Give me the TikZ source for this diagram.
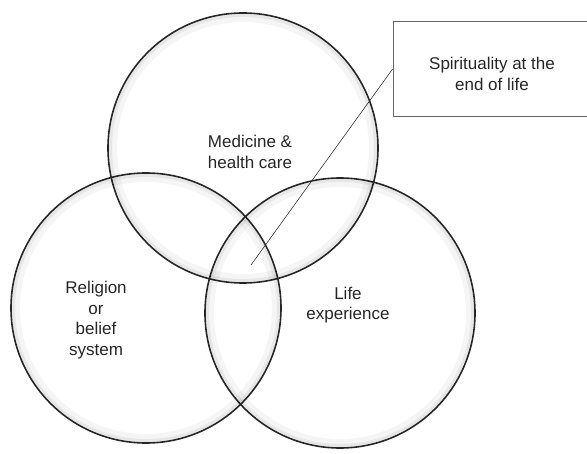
\documentclass[tikz,border=0pt]{standalone}
\usepackage{fontspec}
\setmainfont{Liberation Sans}
\usetikzlibrary{positioning}

\begin{document}
\begin{tikzpicture}[
  x=1pt, y=-1pt,
  ring/.style={circle, draw=black!85, line width=1.6pt, minimum size=270pt, inner sep=0pt},
  lbl/.style={font=\fontsize{17}{20.5}\selectfont, align=center, text=black!85, inner sep=0pt},
  callout/.style={rectangle, draw=black!60, line width=0.8pt, minimum width=197pt, minimum height=95pt, inner sep=0pt},
  pointer/.style={black!80, line width=0.6pt}
]
\useasboundingbox (0,0) rectangle (587,454);

% The three circles
\node[ring] (medicine) at (243,148) {};
\node[ring] (religion) at (146,308) {};
\node[ring] (life) at (340,313) {};

% soft shading just inside each rim
\foreach \c in {medicine,religion,life}{
  \draw[black, opacity=0.04, line width=8pt] (\c.center) circle[radius=130pt];
  \draw[black, opacity=0.06, line width=3pt] (\c.center) circle[radius=132.5pt];
}

% Circle labels
\node[lbl] (medtext) at (250,152) {Medicine \&\\health care};
\node[lbl] (reltext) at (96,320) {Religion\\or\\belief\\system};
\node[lbl] (lifetext) at (348,305) {Life\\experience};

% Callout box and its pointer
\node[callout] (spirit) at (491.5,69) {};
\node[lbl] (spirittext) at (492,74) {Spirituality at the\\end of life};
\coordinate (core) at (251,265);
\draw[pointer] (core) -- (spirit.west);

\end{tikzpicture}
\end{document}
